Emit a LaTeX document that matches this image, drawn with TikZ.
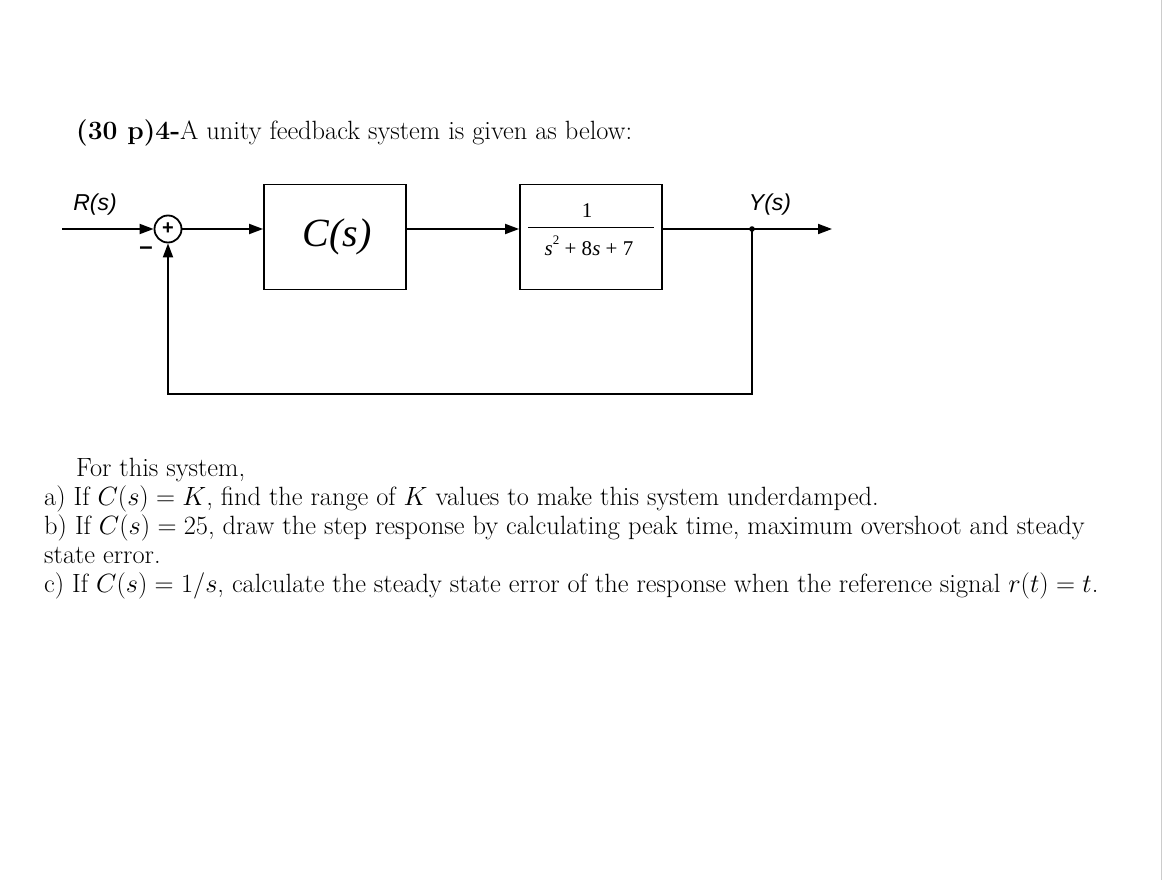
\RequirePackage{fix-cm}
\documentclass[tikz,border=0pt]{standalone}
\usepackage{fontspec}
\newfontfamily\arialf{Liberation Sans}
\newfontfamily\timesf{Liberation Serif}
\usetikzlibrary{arrows.meta}
\begin{document}
\begin{tikzpicture}[x=1pt,y=-1pt,
  blk/.style={draw,line width=1.8pt,minimum width=142pt,minimum height=105pt,inner sep=0pt},
  sig/.style={line width=1.8pt,-{Triangle[length=14pt,width=10pt]}},
  ln/.style={line width=1.8pt},
  body/.style={anchor=base west,inner sep=0pt,font=\fontsize{26.4}{29}\selectfont},
  lab/.style={font=\arialf\itshape\fontsize{23}{26}\selectfont,inner sep=0pt}]
\useasboundingbox (0,0) rectangle (1170,880);
\draw[gray!40,line width=1pt] (1161,0) -- (1161,880);
\node[body] (t0) at (76,140) {\textbf{(30 p)4-}A unity feedback system is given as below:};
\node[lab] (R) at (95,205) {R(s)};
\node[lab] (Y) at (770,205) {Y(s)};
\coordinate (in) at (62,229);
\node[circle,draw,line width=1.8pt,minimum size=27pt,inner sep=0pt] (sum) at (168,229) {};
\node[font=\arialf\bfseries\fontsize{20}{20}\selectfont] at (sum) {+};
\node[font=\arialf\bfseries\fontsize{24}{24}\selectfont] (minus) at (146,251) {–};
\node[blk] (C) at (335,237) {};
\node[font=\timesf\itshape\fontsize{40}{40}\selectfont] (Ct) at (337,237) {C(s)};
\node[blk] (G) at (591,237) {};
\node[font=\timesf\fontsize{21}{21}\selectfont] (num) at (587,211) {1};
\draw[line width=0.8pt] (528,227) -- (654,227);
\node[font=\timesf\fontsize{21}{21}\selectfont] (den) at (589,246) {\textit{s}\raisebox{0.5em}{\fontsize{13}{13}\selectfont 2} + 8\textit{s} + 7};
\coordinate (tap) at (752,229);
\coordinate (out) at (832,229);
\coordinate (b1) at (752,394);
\coordinate (b2) at (168,394);
\draw[sig] (in) -- (sum.west);
\draw[sig] (sum.east) -- (C.west |- sum.east);
\draw[sig] (C.east |- tap) -- (G.west |- tap);
\draw[ln] (G.east |- tap) -- (tap);
\draw[sig] (tap) -- (out);
\fill (tap) circle (2.8pt);
\draw[sig] (tap) -- (b1) -- (b2) -- (sum.south);
\node[body] (p1) at (76,476) {For this system,};
\node[body] (p2) at (44,505) {a) If $C(s)=K$, find the range of $K$ values to make this system underdamped.};
\node[body] (p3) at (44,534) {b) If $C(s)=25$, draw the step response by calculating peak time, maximum overshoot and steady};
\node[body] (p4) at (44,563) {state error.};
\node[body] (p5) at (44,592) {c) If $C(s)=1/s$, calculate the steady state error of the response when the reference signal $r(t)=t$.};
\end{tikzpicture}
\end{document}
